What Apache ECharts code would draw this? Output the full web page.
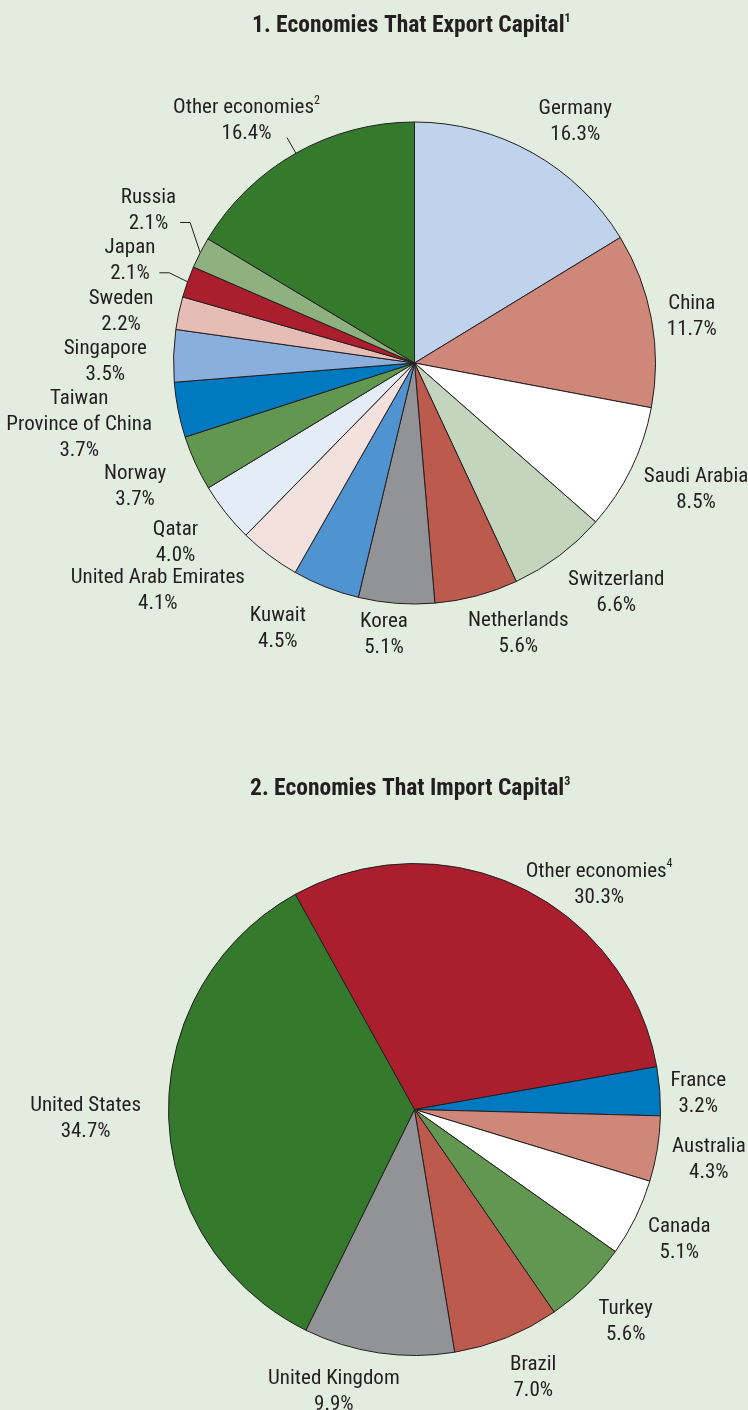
<!DOCTYPE html>
<html><head><meta charset="utf-8">
<script src="https://cdn.jsdelivr.net/npm/echarts@6/dist/echarts.min.js"></script>
<style>html,body{margin:0;padding:0;background:#e2ecdf}#c{width:748px;height:1410px}</style>
</head><body><div id="c"></div>
<script>
// ---------- data ----------
const exportNames = ['Germany','China','Saudi Arabia','Switzerland','Netherlands','Korea','Kuwait','United Arab Emirates','Qatar','Norway','Taiwan\nProvince of China','Singapore','Sweden','Japan','Russia','Other economies'];
const exportValues = [16.3,11.7,8.5,6.6,5.6,5.1,4.5,4.1,4.0,3.7,3.7,3.5,2.2,2.1,2.1,16.4];
const exportNotes = [null,null,null,null,null,null,null,null,null,null,null,null,null,null,null,'2'];
const importNames = ['Other economies','France','Australia','Canada','Turkey','Brazil','United Kingdom','United States'];
const importValues = [30.3,3.2,4.3,5.1,5.6,7.0,9.9,34.7];
const importNotes = ['4',null,null,null,null,null,null,null];
const titles = ['1. Economies That Export Capital','2. Economies That Import Capital'];
const titleNotes = ['1','3'];

// ---------- styles ----------
const exportColors = ['#bfd3ec','#cf877a','#ffffff','#c3d6bd','#bd5a4e','#929397','#4f93d0','#f2e1dc','#e4ecf6','#629751','#0079c1','#8aafdc','#e5bdb4','#aa1e2d','#8fb17f','#357a2c'];
const importColors = ['#aa1e2d','#0079c1','#cf877a','#ffffff','#629751','#bd5a4e','#929397','#357a2c'];
const exportNudge = [[21,5],[6,0],[8,-10],[25,-9],[31,-5],[-10,-3],[-34,3],[-65,-29],[-20,3],[-20,2],[-16,-5],[-20,4],[-16,5],[-22,-11],[-15,-26],[-18,20]];
const importNudge = [[53,48],[3,2],[6,0],[4,-1],[9,5],[13,3],[-39,-3],[-21,-1]];
const exportLeaders = {13:'side',14:'side',15:'radial'};
const importLeaders = {};

const FONT = "Roboto,'DejaVu Sans Condensed',sans-serif";
const STRETCH = 'normal condensed';
const STRETCH_BOLD = 'bold condensed';
const TXT = '#231f20';
const GAP = 6;
const Y_SHIFT = 3;

const pie1 = {cx:414.5, cy:363, r:241, startAngle:90};
const pie2 = {cx:414.5, cy:1109.5, r:246, startAngle:119};

function midAngles(values, startAngle){
  const total = values.reduce((a,b)=>a+b,0);
  let acc = 0;
  const off = (90 - startAngle) * Math.PI/180;
  return values.map(v => { const m = (acc + v/2)/total; acc += v; return m*2*Math.PI + off; });
}

function layoutFor(geo, values, nudge, leaders){
  const mids = midAngles(values, geo.startAngle);
  return function(p){
    const i = p.dataIndex;
    const th = mids[i], s = Math.sin(th), c = Math.cos(th);
    const w = p.labelRect.width, h = p.labelRect.height;
    const D = geo.r + GAP + w/2*Math.abs(s) + h/2*Math.abs(c);
    const x = geo.cx + D*s + nudge[i][0];
    const y = geo.cy - D*c + nudge[i][1] + Y_SHIFT;
    const out = {x:x, y:y, align:'center', verticalAlign:'middle'};
    const kind = leaders[i];
    if (kind){
      const e = [geo.cx + geo.r*s, geo.cy - geo.r*c];
      if (kind === 'radial'){
        const q = [geo.cx + (geo.r+18)*s, geo.cy - (geo.r+18)*c];
        out.labelLinePoints = [e, q, q];
      } else {
        const p2 = [x + w/2 + 4, y + h/4];
        out.labelLinePoints = [e, [p2[0]+10, p2[1]], p2];
      }
    }
    return out;
  };
}

function buildData(names, values, colors, leaders){
  return names.map((n,i)=>({
    name:n, value:values[i],
    itemStyle:{color:colors[i]},
    labelLine:{show: !!leaders[i]}
  }));
}

function labelFormatter(names, values, notes){
  return function(p){
    const i = p.dataIndex;
    const lines = names[i].split('\n').map(t=>'{n|'+t+'}');
    if (notes[i]) lines[lines.length-1] += '{s|'+notes[i]+'}';
    lines.push('{n|'+values[i].toFixed(1)+'%}');
    return lines.join('\n');
  };
}

const rich = {
  n:{fontFamily:FONT, fontWeight:STRETCH, fontSize:21, lineHeight:26, color:TXT},
  s:{fontFamily:FONT, fontWeight:STRETCH, fontSize:12, lineHeight:16, color:TXT, verticalAlign:'top'}
};

function series(geo, names, values, notes, colors, nudge, leaders){
  return {
    type:'pie',
    center:[geo.cx, geo.cy],
    radius:[0, geo.r],
    startAngle:geo.startAngle,
    clockwise:true,
    avoidLabelOverlap:false,
    silent:true,
    animation:false,
    itemStyle:{borderColor:TXT, borderWidth:1},
    label:{show:true, position:'outside', formatter:labelFormatter(names, values, notes), rich:rich, color:TXT},
    labelLine:{show:false, length:10, length2:0, smooth:false, lineStyle:{color:TXT, width:1}},
    labelLayout:layoutFor(geo, values, nudge, leaders),
    emphasis:{disabled:true},
    data:buildData(names, values, colors, leaders)
  };
}

const titleRich = {
  t:{fontFamily:FONT, fontSize:23.5, fontWeight:STRETCH_BOLD, color:TXT, lineHeight:26},
  s:{fontFamily:FONT, fontSize:12, fontWeight:STRETCH_BOLD, color:TXT, lineHeight:16, verticalAlign:'top'}
};

const chart = echarts.init(document.getElementById('c'), null, {renderer:'canvas'});
chart.setOption({
  backgroundColor:'#e2ecdf',
  animation:false,
  title:[
    {text:'{t|'+titles[0]+'}{s|'+titleNotes[0]+'}', left:247, top:8, textStyle:{rich:titleRich}},
    {text:'{t|'+titles[1]+'}{s|'+titleNotes[1]+'}', left:245, top:771, textStyle:{rich:titleRich}}
  ],
  series:[
    series(pie1, exportNames, exportValues, exportNotes, exportColors, exportNudge, exportLeaders),
    series(pie2, importNames, importValues, importNotes, importColors, importNudge, importLeaders)
  ]
});
</script></body></html>
